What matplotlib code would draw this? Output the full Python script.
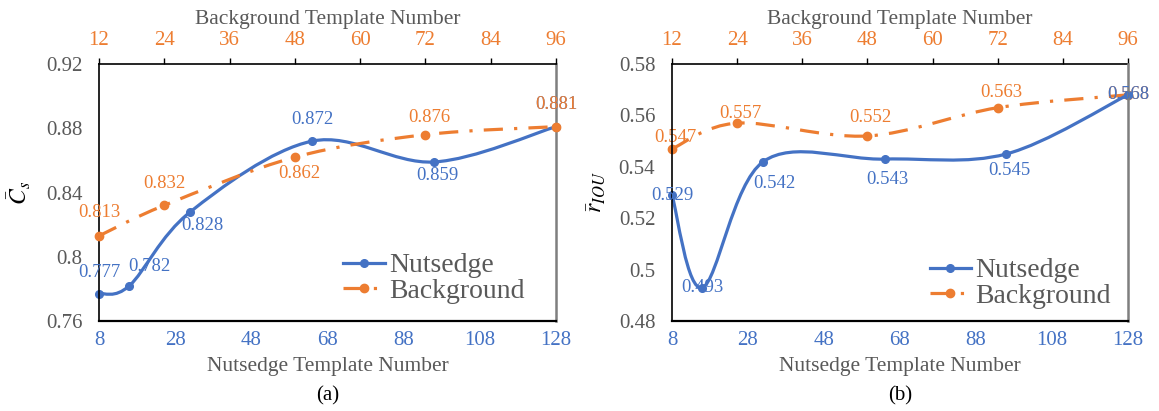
import numpy as np
import matplotlib
matplotlib.use("Agg")
import matplotlib.pyplot as plt
from matplotlib.path import Path
from matplotlib.patches import PathPatch
from matplotlib.lines import Line2D

plt.rcParams["font.family"] = ["Liberation Serif", "DejaVu Serif"]
plt.rcParams["mathtext.fontset"] = "stix"

BLUE = "#4472C4"
ORANGE = "#ED7D31"
GRAY = "#595959"

# template counts
nut_x = [8, 16, 32, 64, 96, 128]
bg_x = [12, 24, 48, 72, 96]

# (a) mean C_s
cs_nut = [0.777, 0.782, 0.828, 0.872, 0.859, 0.881]
cs_bg = [0.813, 0.832, 0.862, 0.876, 0.881]

# (b) mean r_IOU
iou_nut = [0.529, 0.493, 0.542, 0.543, 0.545, 0.568]
iou_bg = [0.547, 0.557, 0.552, 0.563, 0.568]

# data label offsets in pixels (dx, dy up)
cs_nut_off = [(0, 21), (20, 19), (12, -14), (0, 22), (3, -14), (0, 22)]
cs_bg_off = [(0, 23), (0, 22), (4, -16), (4, 17), (0, 22)]
iou_nut_off = [(0, 0), (0, 0), (11, -22), (3, -20), (3, -17), (0, 0)]
iou_bg_off = [(3, 11), (3, 10), (3, 18), (4, 15), (0, 0)]


def smooth_path(xs, ys):
    # excel-like smoothed line: catmull-rom as cubic bezier
    p = np.column_stack([xs, ys]).astype(float)
    n = len(p)
    verts = [p[0]]
    codes = [Path.MOVETO]
    for i in range(n - 1):
        p0 = p[max(i - 1, 0)]
        p1 = p[i]
        p2 = p[i + 1]
        p3 = p[min(i + 2, n - 1)]
        c1 = p1 + (p2 - p0) / 6.0
        c2 = p2 - (p3 - p1) / 6.0
        verts += [c1, c2, p2]
        codes += [Path.CURVE4] * 3
    return Path(verts, codes)


def px2pt(v):
    return v * 72.0 / 100.0


def panel(rect, ylo, yhi, ystep, ynut, ybg, nut_off, bg_off, ylabel, ylab_x, caption,
          leg_anchor, nut_on_top):
    ax = fig.add_axes(rect)
    ax2 = ax.twiny()

    ax.set_xlim(8, 128)
    ax2.set_xlim(12, 96)
    ax.set_ylim(ylo, yhi)
    ax.set_xticks(np.arange(8, 129, 20))
    ax2.set_xticks(np.arange(12, 97, 12))
    yt = np.arange(ylo, yhi + ystep / 2, ystep)
    ax.set_yticks(yt)
    ax.set_yticklabels([("%.2f" % v).rstrip("0") for v in yt])

    nls = (0, (6, 3.5, 1, 3.5))
    ax.add_patch(PathPatch(smooth_path(nut_x, ynut), fill=False, color=BLUE, lw=2.3,
                           capstyle="round"))
    ax.plot(nut_x, ynut, "o", color=BLUE, ms=5.5, clip_on=False)
    ax2.add_patch(PathPatch(smooth_path(bg_x, ybg), fill=False, color=ORANGE, lw=2.3,
                            linestyle=nls))
    ax2.plot(bg_x, ybg, "o", color=ORANGE, ms=6, clip_on=False)

    for x, y, (dx, dy) in zip(nut_x, ynut, nut_off):
        ax.annotate("%.3f" % y, (x, y), xytext=(px2pt(dx), px2pt(dy)),
                    textcoords="offset points", ha="center", va="center",
                    color=BLUE, fontsize=13.5, annotation_clip=False)
    for x, y, (dx, dy) in zip(bg_x, ybg, bg_off):
        ax2.annotate("%.3f" % y, (x, y), xytext=(px2pt(dx), px2pt(dy)),
                     textcoords="offset points", ha="center", va="center",
                     color=ORANGE, fontsize=13.5, annotation_clip=False)

    if nut_on_top:
        ax.set_zorder(ax2.get_zorder() + 1)
        ax.patch.set_visible(False)

    # spines
    for s in ("top", "bottom", "left", "right"):
        ax2.spines[s].set_visible(False)
    ax2.spines["top"].set_visible(True)
    ax2.spines["top"].set_color("black")
    ax2.spines["top"].set_linewidth(1.2)
    ax.spines["top"].set_visible(False)
    ax.spines["left"].set_color("black")
    ax.spines["left"].set_linewidth(1.2)
    ax.spines["bottom"].set_color("black")
    ax.spines["bottom"].set_linewidth(1.6)
    ax.spines["right"].set_color("#7f7f7f")
    ax.spines["right"].set_linewidth(1.8)

    ax.tick_params(axis="x", length=0, pad=7, labelsize=15, labelcolor=BLUE)
    ax.tick_params(axis="y", length=0, pad=12, labelsize=15, labelcolor=GRAY)
    ax2.tick_params(axis="x", direction="out", length=4, width=1, color="black",
                    pad=6, labelsize=15, labelcolor=ORANGE)

    ax.set_xlabel("Nutsedge Template Number", fontsize=15.5, color=GRAY, labelpad=5)
    ax2.set_xlabel("Background Template Number", fontsize=15.5, color=GRAY, labelpad=5)
    ax.set_ylabel(ylabel, fontsize=17, color="black")
    ax.yaxis.set_label_coords(ylab_x, 0.5)

    handles = [
        Line2D([], [], color=BLUE, lw=2.3, marker="o", ms=5.5),
        Line2D([], [], color=ORANGE, lw=2.3, marker="o", ms=6, linestyle=nls),
    ]
    leg = ax.legend(handles, ["Nutsedge", "Background"], loc="upper left",
                    bbox_to_anchor=leg_anchor, frameon=False, fontsize=20,
                    handlelength=1.5, handletextpad=0.15, labelspacing=0.0,
                    borderpad=0, borderaxespad=0)
    for t in leg.get_texts():
        t.set_color(GRAY)

    ax.text(0.5, -0.29, caption, transform=ax.transAxes, ha="center", va="center",
            fontsize=15, color="black")
    return ax


fig = plt.figure(figsize=(11.59, 4.11), dpi=100)

panel([99 / 1159, 90 / 411, 457 / 1159, 257 / 411], 0.76, 0.92, 0.04,
      cs_nut, cs_bg, cs_nut_off, cs_bg_off, r"$\bar{C}_s$", -0.145, "(a)",
      (0.535, 0.265), False)
panel([672 / 1159, 90 / 411, 456 / 1159, 257 / 411], 0.48, 0.58, 0.02,
      iou_nut, iou_bg, iou_nut_off, iou_bg_off, r"$\bar{r}_{IOU}$", -0.14, "(b)",
      (0.565, 0.245), True)

fig.savefig("out.png", dpi=100)
plt.close(fig)
